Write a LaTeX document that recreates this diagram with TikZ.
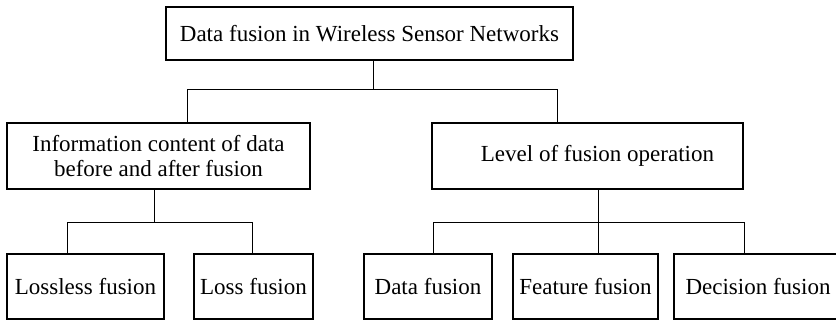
\documentclass[tikz,border=0pt]{standalone}
\usepackage{fontspec}
\setmainfont{Liberation Serif}
\usepackage{tikz}
\tikzset{
  box/.style={draw, line width=2pt, inner sep=0pt, align=center,
    font=\fontsize{23}{24.5}\selectfont},
  link/.style={line width=1pt},
}

\begin{document}
\begin{tikzpicture}[x=1pt, y=-1pt]
    \useasboundingbox (0,0) rectangle (836,323);
    % top level
    \node[box, minimum width=407pt, minimum height=53pt] (root) at (369.5,33.5) {Data fusion in Wireless Sensor Networks};
    % second level
    \node[box, minimum width=303pt, minimum height=66pt] (info) at (158.5,156) {Information content of data\\before and after fusion};
    \node[box, minimum width=311pt, minimum height=66pt] (level) at (587.5,156) {\hspace*{20pt}Level of fusion operation};
    % leaves
    \node[box, minimum width=157pt, minimum height=65pt] (lossless) at (85.5,286.5) {Lossless fusion};
    \node[box, minimum width=119pt, minimum height=65pt] (loss) at (253.5,286.5) {Loss fusion};
    \node[box, minimum width=128pt, minimum height=65pt] (datafus) at (428,286.5) {Data fusion};
    \node[box, minimum width=145pt, minimum height=65pt] (feature) at (585.5,286.5) {Feature fusion};
    \node[box, minimum width=168pt, minimum height=65pt] (decision) at (758,287) {Decision fusion};
    % buses
    \coordinate (bus0) at (373,90);
    \coordinate (bus0l) at (187,90);
    \coordinate (bus0r) at (557,90);
    \coordinate (bus1) at (154,223);
    \coordinate (bus1l) at (67,223);
    \coordinate (bus1r) at (252,223);
    \coordinate (bus2) at (598,223);
    \coordinate (bus2l) at (433,223);
    \coordinate (bus2r) at (744,223);
    \draw[link] (root.south -| bus0) -- (bus0);
    \draw[link] (info.north -| bus0l) -- (bus0l) -- (bus0r) -- (level.north -| bus0r);
    \draw[link] (info.south -| bus1) -- (bus1);
    \draw[link] (lossless.north -| bus1l) -- (bus1l) -- (bus1r) -- (loss.north -| bus1r);
    \draw[link] (level.south -| bus2) -- (feature.north -| bus2);
    \draw[link] (datafus.north -| bus2l) -- (bus2l) -- (bus2r) -- (decision.north -| bus2r);
\end{tikzpicture}
\end{document}
